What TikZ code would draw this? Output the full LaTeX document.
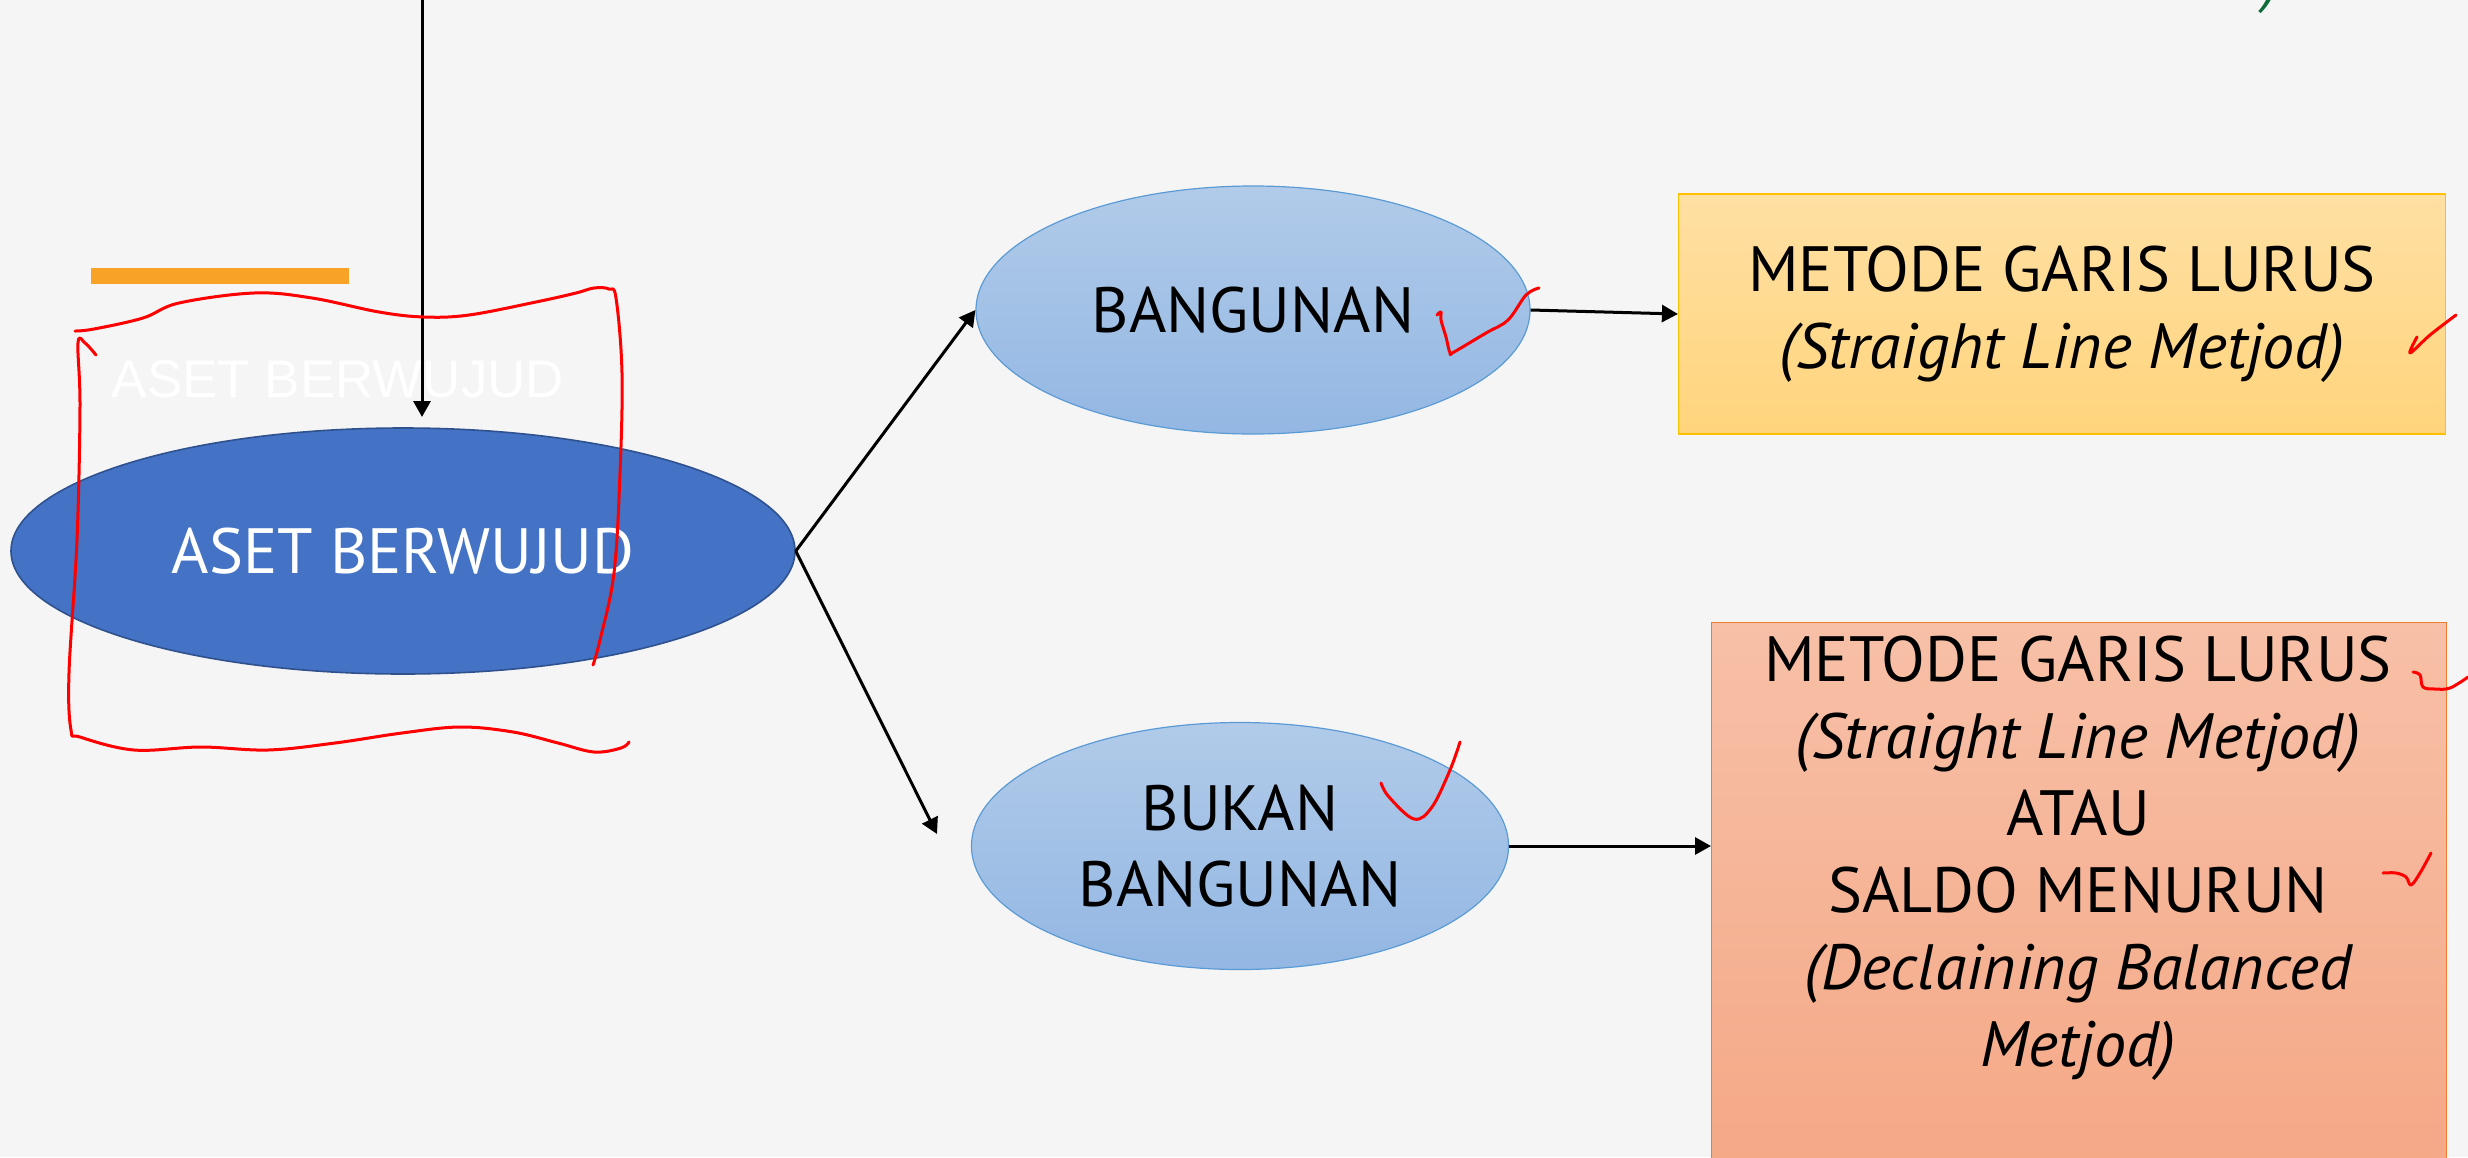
\documentclass[tikz,border=0pt]{standalone}
\usepackage{fontspec}
\setmainfont{PT Sans}
\newfontfamily\ghostfont{Liberation Sans}
\usetikzlibrary{shapes.geometric,arrows.meta}
\definecolor{bgc}{HTML}{F5F5F5}
\definecolor{darkblue}{HTML}{4472C4}
\definecolor{darkblueline}{HTML}{2F528F}
\definecolor{lbtop}{HTML}{B1CBE9}
\definecolor{lbbot}{HTML}{93B7E3}
\definecolor{lbline}{HTML}{5B9BD5}
\definecolor{ytop}{HTML}{FFE0A3}
\definecolor{ybot}{HTML}{FFD47C}
\definecolor{yline}{HTML}{FFC000}
\definecolor{stop}{HTML}{F7C0A7}
\definecolor{sbot}{HTML}{F4A683}
\definecolor{sline}{HTML}{ED7D31}
\definecolor{obar}{HTML}{F9A326}
\definecolor{pen}{HTML}{FF0000}
\definecolor{gtext}{HTML}{0E6B3A}
\begin{document}
\begin{tikzpicture}[x=0.5pt,y=-0.5pt,
  maintext/.style={font=\fontsize{32}{38}\selectfont, align=center, inner sep=0pt},
  bigell/.style={ellipse, draw=darkblueline, line width=0.8pt, fill=darkblue, text=white,
     minimum width=392pt, minimum height=123pt, inner sep=0pt, maintext},
  lightell/.style={ellipse, draw=lbline, line width=0.6pt, top color=lbtop, bottom color=lbbot,
     inner sep=0pt, maintext},
  ybox/.style={rectangle, draw=yline, line width=0.6pt, top color=ytop, bottom color=ybot,
     minimum width=383.5pt, minimum height=120pt, inner sep=0pt, maintext, font=\fontsize{32}{38.5}\selectfont},
  sbox/.style={rectangle, draw=sline, line width=0.6pt, top color=stop, bottom color=sbot,
     minimum width=367.5pt, minimum height=300pt, inner sep=0pt, anchor=north west},
  conn/.style={line width=1.5pt, -{Triangle[length=8pt,width=8.5pt]}},
  redpen/.style={draw=pen, line width=1.5pt, line cap=round, line join=round}
]
\useasboundingbox (0,0) rectangle (2468,1157);
\clip (0,0) rectangle (2468,1157);
\fill[bgc] (0,0) rectangle (2468,1157);

% orange bar and ghost title
\fill[obar] (91,268) rectangle (349,284);
\node[text=white, font=\ghostfont\fontsize{26.5}{30}\selectfont, inner sep=0pt, anchor=base] (ghost) at (338,397) {ASET BERWUJUD};

% green fragment at top
\node[text=gtext, font=\itshape\fontsize{30}{36}\selectfont, inner sep=0pt, anchor=base] (gfrag) at (2272,0) {)};

% main shapes
\node[bigell] (aset) at (403,551) {ASET BERWUJUD};
\node[lightell, minimum width=277pt, minimum height=124pt] (bang) at (1253,310) {BANGUNAN};
\node[lightell, minimum width=268.5pt, minimum height=123.5pt] (bukan) at (1240,846) {BUKAN\\BANGUNAN};
\node[ybox] (box1) at (2062,314) {METODE GARIS LURUS\\\itshape (Straight Line Metjod)};
\node[sbox] (box2) at (1711,622) {};
\node[maintext, font=\fontsize{32}{38.5}\selectfont, anchor=north] (box2text) at (2078,636)
  {METODE GARIS LURUS\\\itshape (Straight Line Metjod)\\ATAU\\SALDO MENURUN\\\itshape (Declaining Balanced\\\itshape Metjod)};

% connectors
\coordinate (topstart) at (422,-10);
\coordinate (topend) at (422,417);
\coordinate (bukanin) at (937,834);
\draw[conn] (topstart) -- (topend);
\draw[conn] (aset.east) -- (bang.west);
\draw[conn] (aset.east) -- (bukanin);
\draw[conn] (bang.east) -- (box1.west);
\draw[conn] (bukan.east) -- (bukan.east -| box2.west);

% red handwriting
\draw[redpen] plot[smooth, tension=0.6] coordinates {(75,331) (94,329) (143,318) (179,303) (254,293) (312,298) (379,312) (424,317) (469,315) (536,302) (576,293) (594,288) (609,289) (616,298) (622,373) (620,473) (614,573) (600,640) (593,665)};
\draw[redpen] plot[smooth, tension=0.6] coordinates {(96,355) (85,343) (78,343) (80,407) (77,540) (69,673) (71,730) (80,737) (134,750) (201,747) (268,750) (335,743) (402,733) (460,727) (513,732) (558,743) (594,752) (621,748) (629,742)};
\draw[redpen] plot[smooth, tension=0.6] coordinates {(1437,315) (1441,312) (1441,320) (1446,337) (1450,353) (1454,352) (1486,333) (1508,320) (1526,295) (1539,288)};
\draw[redpen] plot[smooth, tension=0.6] coordinates {(2417,337) (2410,353) (2430,335) (2456,315)};
\draw[redpen] plot[smooth, tension=0.6] coordinates {(2413,672) (2420,675) (2423,687) (2435,689) (2450,688) (2468,677)};
\draw[redpen] plot[smooth, tension=0.6] coordinates {(2383,873) (2396,873) (2406,877) (2411,885) (2420,873) (2431,853)};
\draw[redpen] plot[smooth, tension=0.6] coordinates {(1381,783) (1389,797) (1414,819) (1432,807) (1450,770) (1460,742)};
\end{tikzpicture}
\end{document}
